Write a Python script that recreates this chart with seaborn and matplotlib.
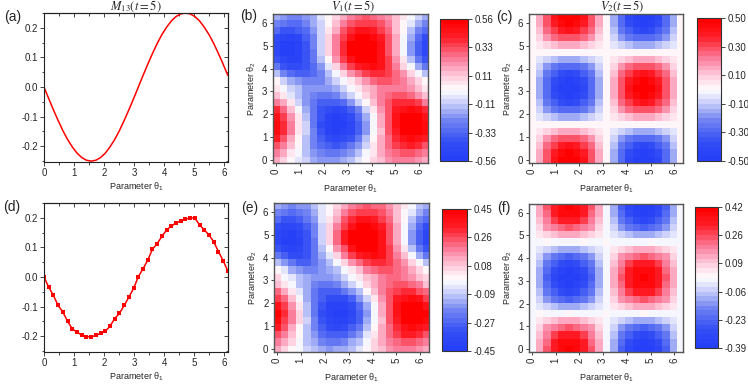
import numpy as np
import pandas as pd
import matplotlib
matplotlib.use("Agg")
import matplotlib.pyplot as plt
from matplotlib.colors import LinearSegmentedColormap
from matplotlib.ticker import MultipleLocator
import seaborn as sns

# ------------------------------------------------------------------ data
THETA_LINE = [0.000, 0.157, 0.314, 0.471, 0.628, 0.785, 0.942, 1.100, 1.257, 1.414,
              1.571, 1.728, 1.885, 2.042, 2.199, 2.356, 2.513, 2.670, 2.827, 2.985,
              3.142, 3.299, 3.456, 3.613, 3.770, 3.927, 4.084, 4.241, 4.398, 4.555,
              4.712, 4.869, 5.027, 5.184, 5.341, 5.498, 5.655, 5.812, 5.969, 6.126]

M13_THEORY = [0.000, -0.039, -0.077, -0.113, -0.147, -0.177, -0.202, -0.223, -0.238, -0.247,
              -0.250, -0.247, -0.238, -0.223, -0.202, -0.177, -0.147, -0.113, -0.077, -0.039,
              0.000, 0.039, 0.077, 0.113, 0.147, 0.177, 0.202, 0.223, 0.238, 0.247,
              0.250, 0.247, 0.238, 0.223, 0.202, 0.177, 0.147, 0.113, 0.077, 0.039]

M13_EXP = [0.000, -0.034, -0.062, -0.096, -0.118, -0.149, -0.175, -0.186, -0.196, -0.201,
           -0.202, -0.197, -0.190, -0.183, -0.166, -0.140, -0.123, -0.096, -0.068, -0.038,
           0.001, 0.028, 0.057, 0.094, 0.113, 0.137, 0.159, 0.172, 0.183, 0.189,
           0.195, 0.200, 0.199, 0.176, 0.159, 0.142, 0.119, 0.086, 0.055, 0.020]

# grid of parameter values (theta1 columns, theta2 rows)
THETA_GRID = [0.000, 0.314, 0.628, 0.942, 1.257, 1.571, 1.885, 2.199, 2.513, 2.827, 3.142,
              3.456, 3.770, 4.084, 4.398, 4.712, 5.027, 5.341, 5.655, 5.969, 6.283]

# values in hundredths; row i -> theta2 = THETA_GRID[i], column j -> theta1 = THETA_GRID[j]
V1_THEORY = [
    [16, 10, 3, -4, -10, -15, -19, -20, -19, -17, -12, -6, 1, 8, 14, 19, 23, 24, 23, 21, 16],
    [23, 16, 7, -3, -12, -19, -25, -28, -28, -25, -19, -12, -3, 7, 16, 23, 29, 32, 32, 29, 23],
    [33, 24, 12, 0, -12, -23, -32, -37, -38, -35, -29, -20, -8, 4, 16, 27, 36, 41, 42, 39, 33],
    [42, 31, 18, 3, -12, -25, -36, -43, -46, -44, -38, -27, -14, 1, 16, 29, 40, 47, 50, 48, 42],
    [49, 38, 23, 7, -10, -26, -40, -49, -53, -52, -45, -34, -19, -3, 14, 30, 44, 53, 57, 56, 49],
    [52, 40, 25, 7, -11, -28, -42, -51, -56, -55, -48, -36, -21, -3, 15, 32, 46, 55, 60, 59, 52],
    [48, 36, 21, 5, -13, -28, -41, -50, -53, -51, -44, -32, -17, -1, 17, 32, 45, 54, 57, 55, 48],
    [38, 27, 13, -2, -16, -28, -38, -44, -45, -42, -34, -23, -9, 6, 20, 32, 42, 48, 49, 46, 38],
    [26, 15, 4, -8, -19, -28, -34, -36, -35, -30, -22, -11, 1, 12, 23, 32, 38, 40, 39, 34, 26],
    [14, 6, -4, -12, -19, -24, -27, -27, -24, -18, -10, -2, 8, 16, 23, 28, 31, 31, 28, 22, 14],
    [7, -1, -8, -14, -19, -22, -22, -20, -16, -10, -3, 5, 12, 18, 23, 26, 26, 24, 20, 14, 7],
    [0, -8, -16, -21, -24, -25, -23, -18, -11, -3, 6, 14, 22, 27, 30, 31, 29, 24, 17, 9, 0],
    [-14, -23, -30, -34, -34, -30, -23, -14, -3, 9, 20, 29, 36, 40, 40, 36, 29, 20, 9, -3, -14],
    [-29, -38, -42, -43, -39, -30, -19, -5, 9, 23, 35, 44, 48, 49, 45, 36, 25, 11, -3, -17, -29],
    [-40, -48, -51, -49, -41, -29, -14, 3, 19, 34, 46, 54, 57, 55, 47, 35, 20, 4, -13, -28, -40],
    [-47, -54, -55, -50, -41, -27, -10, 8, 26, 41, 53, 60, 61, 56, 47, 33, 16, -2, -20, -35, -47],
    [-47, -53, -54, -49, -39, -25, -9, 9, 26, 41, 53, 59, 60, 55, 45, 31, 15, -3, -20, -35, -47],
    [-42, -48, -49, -45, -36, -24, -9, 8, 24, 37, 48, 54, 55, 51, 42, 30, 15, -2, -18, -31, -42],
    [-33, -39, -40, -37, -30, -21, -8, 5, 18, 30, 39, 45, 46, 43, 36, 27, 14, 1, -12, -24, -33],
    [-24, -29, -31, -30, -25, -17, -8, 3, 13, 23, 30, 35, 37, 36, 31, 23, 14, 3, -7, -17, -24],
    [-18, -22, -24, -23, -20, -15, -7, 1, 9, 17, 24, 28, 30, 29, 26, 21, 13, 5, -3, -11, -18],
]

V2_THEORY = [
    [0, 15, 29, 40, 48, 50, 48, 40, 29, 15, 0, -15, -29, -40, -48, -50, -48, -40, -29, -15, 0],
    [0, 15, 28, 38, 45, 48, 45, 38, 28, 15, 0, -15, -28, -38, -45, -48, -45, -38, -28, -15, 0],
    [0, 13, 24, 33, 38, 40, 38, 33, 24, 13, 0, -13, -24, -33, -38, -40, -38, -33, -24, -13, 0],
    [0, 9, 17, 24, 28, 29, 28, 24, 17, 9, 0, -9, -17, -24, -28, -29, -28, -24, -17, -9, 0],
    [0, 5, 9, 12, 15, 15, 15, 12, 9, 5, 0, -5, -9, -12, -15, -15, -15, -12, -9, -5, 0],
    [0, 0, 0, 0, 0, 0, 0, 0, 0, 0, 0, 0, 0, 0, 0, 0, 0, 0, 0, 0, 0],
    [0, -5, -9, -12, -15, -15, -15, -12, -9, -5, 0, 5, 9, 12, 15, 15, 15, 12, 9, 5, 0],
    [0, -9, -17, -24, -28, -29, -28, -24, -17, -9, 0, 9, 17, 24, 28, 29, 28, 24, 17, 9, 0],
    [0, -13, -24, -33, -38, -40, -38, -33, -24, -13, 0, 13, 24, 33, 38, 40, 38, 33, 24, 13, 0],
    [0, -15, -28, -38, -45, -48, -45, -38, -28, -15, 0, 15, 28, 38, 45, 48, 45, 38, 28, 15, 0],
    [0, -15, -29, -40, -48, -50, -48, -40, -29, -15, 0, 15, 29, 40, 48, 50, 48, 40, 29, 15, 0],
    [0, -15, -28, -38, -45, -48, -45, -38, -28, -15, 0, 15, 28, 38, 45, 48, 45, 38, 28, 15, 0],
    [0, -13, -24, -33, -38, -40, -38, -33, -24, -13, 0, 13, 24, 33, 38, 40, 38, 33, 24, 13, 0],
    [0, -9, -17, -24, -28, -29, -28, -24, -17, -9, 0, 9, 17, 24, 28, 29, 28, 24, 17, 9, 0],
    [0, -5, -9, -12, -15, -15, -15, -12, -9, -5, 0, 5, 9, 12, 15, 15, 15, 12, 9, 5, 0],
    [0, 0, 0, 0, 0, 0, 0, 0, 0, 0, 0, 0, 0, 0, 0, 0, 0, 0, 0, 0, 0],
    [0, 5, 9, 12, 15, 15, 15, 12, 9, 5, 0, -5, -9, -12, -15, -15, -15, -12, -9, -5, 0],
    [0, 9, 17, 24, 28, 29, 28, 24, 17, 9, 0, -9, -17, -24, -28, -29, -28, -24, -17, -9, 0],
    [0, 13, 24, 33, 38, 40, 38, 33, 24, 13, 0, -13, -24, -33, -38, -40, -38, -33, -24, -13, 0],
    [0, 15, 28, 38, 45, 48, 45, 38, 28, 15, 0, -15, -28, -38, -45, -48, -45, -38, -28, -15, 0],
    [0, 15, 29, 40, 48, 50, 48, 40, 29, 15, 0, -15, -29, -40, -48, -50, -48, -40, -29, -15, 0],
]

V1_EXP = [
    [13, 8, 2, -3, -8, -12, -15, -16, -15, -14, -10, -5, 1, 6, 11, 15, 18, 19, 18, 17, 13],
    [18, 13, 6, -2, -10, -15, -20, -22, -22, -20, -15, -10, -2, 6, 13, 18, 23, 26, 26, 23, 18],
    [26, 19, 10, 0, -10, -18, -26, -30, -30, -28, -23, -16, -6, 3, 13, 22, 29, 33, 34, 31, 26],
    [34, 25, 14, 2, -10, -20, -29, -34, -37, -35, -30, -22, -11, 1, 13, 23, 32, 38, 40, 38, 34],
    [39, 30, 18, 6, -8, -21, -32, -39, -42, -42, -36, -27, -15, -2, 11, 24, 35, 42, 46, 45, 39],
    [42, 32, 20, 6, -9, -22, -34, -41, -45, -44, -38, -29, -17, -2, 12, 26, 37, 44, 48, 47, 42],
    [38, 29, 17, 4, -10, -22, -33, -40, -42, -41, -35, -26, -14, -1, 14, 26, 36, 43, 46, 44, 38],
    [30, 22, 10, -2, -13, -22, -30, -35, -36, -34, -27, -18, -7, 5, 16, 26, 34, 38, 39, 37, 30],
    [21, 12, 3, -6, -15, -22, -27, -29, -28, -24, -18, -9, 1, 10, 18, 26, 30, 32, 31, 27, 21],
    [11, 5, -3, -10, -15, -19, -22, -22, -19, -14, -8, -2, 6, 13, 18, 22, 25, 25, 22, 18, 11],
    [6, -1, -6, -11, -15, -18, -18, -16, -13, -8, -2, 4, 10, 14, 18, 21, 21, 19, 16, 11, 6],
    [0, -6, -13, -17, -19, -20, -18, -14, -9, -2, 5, 11, 18, 22, 24, 25, 23, 19, 14, 7, 0],
    [-11, -18, -24, -27, -27, -24, -18, -11, -2, 7, 16, 23, 29, 32, 32, 29, 23, 16, 7, -2, -11],
    [-23, -30, -34, -34, -31, -24, -15, -4, 7, 18, 28, 35, 38, 39, 36, 29, 20, 9, -2, -14, -23],
    [-32, -38, -41, -39, -33, -23, -11, 2, 15, 27, 37, 43, 46, 44, 38, 28, 16, 3, -10, -22, -32],
    [-38, -43, -44, -40, -33, -22, -8, 6, 21, 33, 42, 48, 49, 45, 38, 26, 13, -2, -16, -28, -38],
    [-38, -42, -43, -39, -31, -20, -7, 7, 21, 33, 42, 47, 48, 44, 36, 25, 12, -2, -16, -28, -38],
    [-34, -38, -39, -36, -29, -19, -7, 6, 19, 30, 38, 43, 44, 41, 34, 24, 12, -2, -14, -25, -34],
    [-26, -31, -32, -30, -24, -17, -6, 4, 14, 24, 31, 36, 37, 34, 29, 22, 11, 1, -10, -19, -26],
    [-19, -23, -25, -24, -20, -14, -6, 2, 10, 18, 24, 28, 30, 29, 25, 18, 11, 2, -6, -14, -19],
    [-14, -18, -19, -18, -16, -12, -6, 1, 7, 14, 19, 22, 24, 23, 21, 17, 10, 4, -2, -9, -14],
]

V2_EXP = [
    [1, 13, 25, 33, 39, 41, 39, 33, 25, 13, 1, -11, -23, -31, -37, -39, -37, -31, -23, -11, 1],
    [1, 13, 23, 32, 37, 39, 37, 32, 23, 13, 1, -11, -21, -30, -35, -37, -35, -30, -21, -11, 1],
    [1, 11, 20, 27, 32, 33, 32, 27, 20, 11, 1, -9, -18, -25, -30, -31, -30, -25, -18, -9, 1],
    [1, 8, 15, 20, 23, 25, 23, 20, 15, 8, 1, -6, -13, -18, -21, -23, -21, -18, -13, -6, 1],
    [1, 5, 8, 11, 13, 13, 13, 11, 8, 5, 1, -3, -6, -9, -11, -11, -11, -9, -6, -3, 1],
    [1, 2, 1, 0, 1, 2, 1, 1, 0, 1, 2, 1, 0, 1, 1, 2, 1, 0, 1, 1, 1],
    [1, -3, -6, -9, -11, -11, -11, -9, -6, -3, 1, 5, 8, 11, 13, 13, 13, 11, 8, 5, 1],
    [1, -6, -13, -18, -21, -23, -21, -18, -13, -6, 1, 8, 15, 20, 23, 25, 23, 20, 15, 8, 1],
    [1, -9, -18, -25, -30, -31, -30, -25, -18, -9, 1, 11, 20, 27, 32, 33, 32, 27, 20, 11, 1],
    [1, -11, -21, -30, -35, -37, -35, -30, -21, -11, 1, 13, 23, 32, 37, 39, 37, 32, 23, 13, 1],
    [1, -11, -23, -31, -37, -39, -37, -31, -23, -11, 1, 13, 25, 33, 39, 42, 39, 33, 25, 13, 1],
    [1, -11, -21, -30, -35, -37, -35, -30, -21, -11, 1, 13, 23, 32, 37, 39, 37, 32, 23, 13, 1],
    [1, -9, -18, -25, -30, -31, -30, -25, -18, -9, 1, 11, 20, 27, 32, 33, 32, 27, 20, 11, 1],
    [1, -6, -13, -18, -21, -23, -21, -18, -13, -6, 1, 8, 15, 20, 23, 25, 23, 20, 15, 8, 1],
    [1, -3, -6, -9, -11, -11, -11, -9, -6, -3, 1, 5, 8, 11, 13, 13, 13, 11, 8, 5, 1],
    [1, 1, 2, 1, 0, 1, 1, 2, 1, 1, 2, 1, 1, 0, 1, 1, 2, 1, 1, 0, 1],
    [1, 5, 8, 11, 13, 13, 13, 11, 8, 5, 1, -3, -6, -9, -11, -11, -11, -9, -6, -3, 1],
    [1, 8, 15, 20, 23, 25, 23, 20, 15, 8, 1, -6, -13, -18, -21, -23, -21, -18, -13, -6, 1],
    [1, 11, 20, 27, 32, 33, 32, 27, 20, 11, 1, -9, -18, -25, -30, -31, -30, -25, -18, -9, 1],
    [1, 13, 23, 32, 37, 39, 37, 32, 23, 13, 1, -11, -21, -30, -35, -37, -35, -30, -21, -11, 1],
    [1, 13, 25, 33, 39, 41, 39, 33, 25, 13, 1, -11, -23, -31, -37, -39, -37, -31, -23, -11, 1],
]

V1_THEORY_RANGE = (-0.56, 0.56)
V2_THEORY_RANGE = (-0.50, 0.50)
V1_EXP_RANGE = (-0.45, 0.45)
V2_EXP_RANGE = (-0.39, 0.42)

CBAR_LABELS_B = ["-0.56", "-0.33", "-0.11", "0.11", "0.33", "0.56"]
CBAR_LABELS_C = ["-0.50", "-0.30", "-0.10", "0.10", "0.30", "0.50"]
CBAR_LABELS_E = ["-0.45", "-0.27", "-0.09", "0.08", "0.26", "0.45"]
CBAR_LABELS_F = ["-0.39", "-0.23", "-0.06", "0.09", "0.26", "0.42"]

AXIS_TICKS = [0, 1, 2, 3, 4, 5, 6]
LINE_YTICKS = [-0.2, -0.1, 0.0, 0.1, 0.2]

# ------------------------------------------------------------------ style
sns.set_style("ticks")
plt.rcParams["font.family"] = ["Liberation Sans", "DejaVu Sans"]
plt.rcParams["mathtext.fontset"] = "stix"
plt.rcParams["axes.unicode_minus"] = False

CMAP = LinearSegmentedColormap.from_list(
    "origin_bwr",
    [(0.00, (0.15, 0.25, 0.97)),
     (0.12, (0.20, 0.30, 0.96)),
     (0.28, (0.45, 0.52, 0.95)),
     (0.40, (0.78, 0.80, 0.98)),
     (0.50, (1.00, 1.00, 1.00)),
     (0.60, (1.00, 0.80, 0.87)),
     (0.72, (0.98, 0.50, 0.62)),
     (0.88, (1.00, 0.12, 0.16)),
     (1.00, (1.00, 0.00, 0.00))],
    N=30)

W, H = 748, 384
fig = plt.figure(figsize=(W / 100, H / 100), dpi=100)


def px_axes(x0, y0, x1, y1):
    return fig.add_axes([x0 / W, 1 - y1 / H, (x1 - x0) / W, (y1 - y0) / H])


XLAB1 = "Parameter θ$\\mathregular{_1}$"
XLAB2 = "Parameter θ$\\mathregular{_2}$"
TICK_FS = 7
LAB_FS = 6.5


def line_panel(ax, y, with_markers):
    kw = dict(marker="s", markersize=3, markeredgewidth=0) if with_markers else {}
    sns.lineplot(x=THETA_LINE, y=y, ax=ax, color="#ff0000", linewidth=1.1, **kw)
    ax.set_xlim(0, 6.13)
    ax.set_ylim(-0.253, 0.25)
    ax.set_xticks(AXIS_TICKS)
    ax.set_yticks(LINE_YTICKS)
    ax.set_yticklabels([f"{v:.1f}" for v in LINE_YTICKS])
    ax.xaxis.set_minor_locator(MultipleLocator(0.5))
    ax.yaxis.set_minor_locator(MultipleLocator(0.05))
    ax.tick_params(which="both", direction="out", top=False, right=False,
                   labelsize=TICK_FS, width=0.6, pad=1.5)
    ax.tick_params(which="major", length=3)
    ax.tick_params(which="minor", length=1.8)
    sec_x = ax.secondary_xaxis("top")
    sec_x.set_xticks(AXIS_TICKS)
    sec_x.xaxis.set_minor_locator(MultipleLocator(0.5))
    sec_x.tick_params(which="both", direction="in", labeltop=False, width=0.6)
    sec_x.tick_params(which="major", length=3)
    sec_x.tick_params(which="minor", length=1.8)
    sec_y = ax.secondary_yaxis("right")
    sec_y.set_yticks(LINE_YTICKS)
    sec_y.yaxis.set_minor_locator(MultipleLocator(0.05))
    sec_y.tick_params(which="both", direction="in", labelright=False, width=0.6)
    sec_y.tick_params(which="major", length=3)
    sec_y.tick_params(which="minor", length=1.8)
    for s in list(ax.spines.values()) + [sec_x.spines["top"], sec_y.spines["right"]]:
        s.set_linewidth(0.8)
        s.set_color("#222222")
    ax.set_xlabel(XLAB1, fontsize=LAB_FS, labelpad=1.5)
    ax.set_ylabel("")


def map_panel(ax, cax, grid, vrange, cbar_labels):
    vmin, vmax = vrange
    df = pd.DataFrame(np.array(grid, dtype=float) / 100.0,
                      index=THETA_GRID, columns=THETA_GRID)
    sns.heatmap(df, ax=ax, cbar_ax=cax, cmap=CMAP, vmin=vmin, vmax=vmax,
                xticklabels=False, yticklabels=False)
    step = THETA_GRID[1] - THETA_GRID[0]

    def pos(t):
        return t / step + 0.5

    ax.set_xlim(pos(-0.12), pos(6.36))
    ax.set_ylim(pos(-0.12), pos(6.38))
    ticks = [pos(t) for t in AXIS_TICKS]
    ax.set_xticks(ticks)
    ax.set_xticklabels([str(t) for t in AXIS_TICKS], rotation=90)
    ax.set_yticks(ticks)
    ax.set_yticklabels([str(t) for t in AXIS_TICKS], rotation=0)
    ax.tick_params(direction="out", length=2.5, width=0.6, labelsize=TICK_FS, pad=1.5)
    for s in ax.spines.values():
        s.set_visible(True)
        s.set_linewidth(1.0)
        s.set_color("#555555")
    ax.set_xlabel(XLAB1, fontsize=LAB_FS, labelpad=6)
    ax.set_ylabel(XLAB2, fontsize=LAB_FS, labelpad=3)
    cb = ax.collections[0].colorbar
    cb.set_ticks(list(np.linspace(vmin, vmax, len(cbar_labels))))
    cb.set_ticklabels(cbar_labels)
    cb.outline.set_visible(True)
    cb.outline.set_edgecolor("#333333")
    cb.outline.set_linewidth(0.8)
    cb.ax.tick_params(labelsize=TICK_FS, length=3, width=0.6, direction="out", pad=1.5)


# ------------------------------------------------------------------ panels
ax_a = px_axes(44, 13, 228, 162)
ax_d = px_axes(44, 203, 228, 352)
ax_b = px_axes(273, 14, 428, 163)
ax_c = px_axes(529, 14, 683, 163)
ax_e = px_axes(274, 203, 429, 352)
ax_f = px_axes(529, 204, 683, 352)
cax_b = px_axes(440, 19, 468, 161)
cax_c = px_axes(697, 18, 721, 161)
cax_e = px_axes(442, 209, 467, 351)
cax_f = px_axes(695, 207, 718, 348)

line_panel(ax_a, M13_THEORY, False)
line_panel(ax_d, M13_EXP, True)
map_panel(ax_b, cax_b, V1_THEORY, V1_THEORY_RANGE, CBAR_LABELS_B)
map_panel(ax_c, cax_c, V2_THEORY, V2_THEORY_RANGE, CBAR_LABELS_C)
map_panel(ax_e, cax_e, V1_EXP, V1_EXP_RANGE, CBAR_LABELS_E)
map_panel(ax_f, cax_f, V2_EXP, V2_EXP_RANGE, CBAR_LABELS_F)

# titles
fig.text(136 / W, 1 - 6.5 / H, r"$M_{13}(t=5)$", ha="center", va="center", fontsize=9)
fig.text(353 / W, 1 - 6.5 / H, r"$V_1(t=5)$", ha="center", va="center", fontsize=9)
fig.text(622 / W, 1 - 6.5 / H, r"$V_2(t=5)$", ha="center", va="center", fontsize=9)

# panel labels
for lab, x, y in [("(a)", 4, 17), ("(b)", 240, 16), ("(c)", 496, 17),
                  ("(d)", 3, 207), ("(e)", 241, 208), ("(f)", 497, 208)]:
    fig.text(x / W, 1 - y / H, lab, ha="left", va="center", fontsize=10)

fig.savefig("out.png", dpi=100)
